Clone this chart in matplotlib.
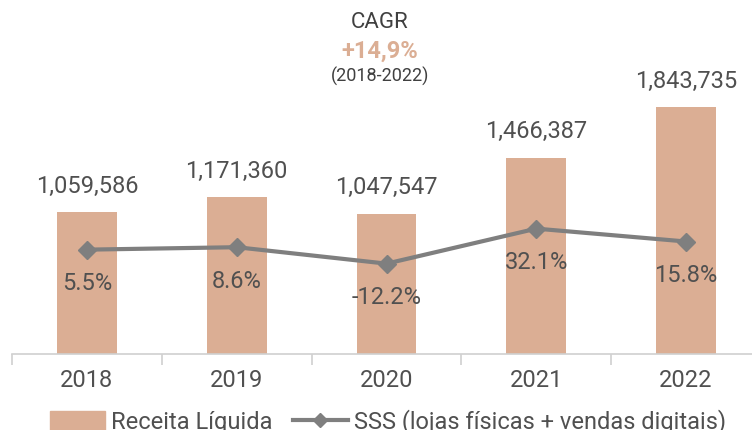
import matplotlib.pyplot as plt
from matplotlib.lines import Line2D
from matplotlib.patches import Patch

plt.rcParams['font.family'] = ['Roboto', 'DejaVu Sans']

# data
years = ['2018', '2019', '2020', '2021', '2022']
receita = [1059586, 1171360, 1047547, 1466387, 1843735]
sss = [5.5, 8.6, -12.2, 32.1, 15.8]
receita_labels = ['1,059,586', '1,171,360', '1,047,547', '1,466,387', '1,843,735']
sss_labels = ['5.5%', '8.6%', '-12.2%', '32.1%', '15.8%']

bar_color = '#DBAE94'
line_color = '#7F7F7F'
text_color = '#505050'

fig = plt.figure(figsize=(7.52, 4.30), dpi=100)
ax = fig.add_axes([12 / 752, 76 / 430, 749 / 752, 349 / 430])
x = range(len(years))

ax.bar(x, receita, width=0.4, color=bar_color, zorder=1)
ax.set_xlim(-0.5, 4.5)
ax.set_ylim(0, 349 * 7465)

for i, v in enumerate(receita):
    ax.annotate(receita_labels[i], (i, v), xytext=(0, 26), textcoords='offset pixels',
                ha='center', va='center', fontsize=17, color=text_color)

# x axis styling
for s in ['top', 'right', 'left']:
    ax.spines[s].set_visible(False)
ax.spines['bottom'].set_color('#D0D0D0')
ax.spines['bottom'].set_linewidth(1.2)
ax.set_yticks([])
ax.set_xticks([-0.5, 0.5, 1.5, 2.5, 3.5, 4.5], minor=False)
ax.set_xticklabels([])
ax.tick_params(axis='x', which='major', length=8, color='#D0D0D0', width=1.2)
ax.set_xticks(list(x), minor=True)
ax.set_xticklabels(years, minor=True)
ax.tick_params(axis='x', which='minor', length=0, pad=11, labelsize=17, labelcolor=text_color)

# SSS line on secondary axis
ax2 = ax.twinx()
ax2.set_ylim(-100 / 0.79, 249 / 0.79)
ax2.plot(x, sss, color=line_color, linewidth=3, marker='D', markersize=9, zorder=3)
ax2.axis('off')
for i, v in enumerate(sss):
    ax2.annotate(sss_labels[i], (i, v), xytext=(0, -34), textcoords='offset pixels',
                 ha='center', va='center', fontsize=17, color=text_color)

# CAGR annotation
fig.text(380 / 752, 1 - 22 / 430, 'CAGR', ha='center', va='center', fontsize=16, color='#404040')
fig.text(380 / 752, 1 - 51 / 430, '+14,9%', ha='center', va='center', fontsize=17,
         fontweight='bold', color=bar_color)
fig.text(380 / 752, 1 - 76 / 430, '(2018-2022)', ha='center', va='center', fontsize=13, color='#404040')

# legend
handles = [Patch(color=bar_color, label='Receita Líquida'),
           Line2D([0], [0], color=line_color, linewidth=3, marker='D', markersize=7,
                  label='SSS (lojas físicas + vendas digitais)')]
fig.legend(handles=handles, loc='center', bbox_to_anchor=(388 / 752, 1 - 422 / 430), ncol=2,
           frameon=False, fontsize=17, labelcolor=text_color, handlelength=2.3,
           handleheight=0.9, columnspacing=0.9, handletextpad=0.25)

fig.savefig('out.png', dpi=100)
